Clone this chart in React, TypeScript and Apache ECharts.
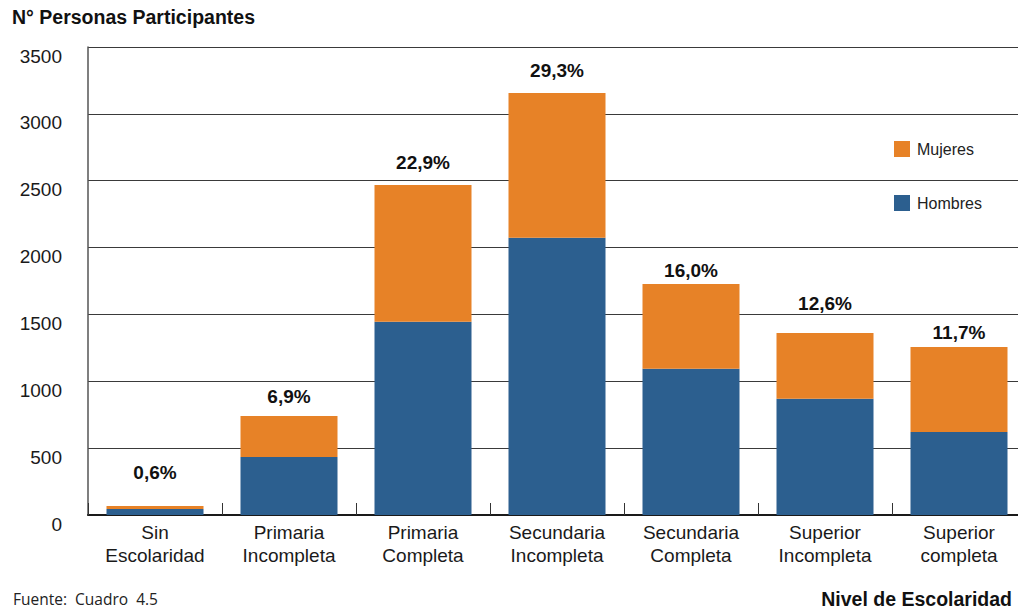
import React, { useEffect, useRef } from "react";
import * as echarts from "echarts";

const categories = [
  "Sin\nEscolaridad",
  "Primaria\nIncompleta",
  "Primaria\nCompleta",
  "Secundaria\nIncompleta",
  "Secundaria\nCompleta",
  "Superior\nIncompleta",
  "Superior\ncompleta",
];
const hombres = [45, 434, 1446, 2074, 1094, 870, 621];
const mujeres = [22, 306, 1022, 1082, 634, 491, 635];
const pctLabels = ["0,6%", "6,9%", "22,9%", "29,3%", "16,0%", "12,6%", "11,7%"];
const yTicks = { min: 0, max: 3500, interval: 500 };

// vertical gap (px) between each bar top and its percentage label
const labelGap = [24, 10, 13, 13, 4, 20, 5];

const BLUE = "#2C5F8F";
const ORANGE = "#E78227";
const SANS = "Liberation Sans, Arial, Helvetica, sans-serif";
const OPEN = "Open Sans, sans-serif";

export default function App() {
  const ref = useRef<HTMLDivElement>(null);
  useEffect(() => {
    if (!ref.current) return;
    const chart = echarts.init(ref.current, null, { renderer: "svg" });
    chart.setOption({
      animation: false,
      backgroundColor: "#ffffff",
      textStyle: { fontFamily: SANS },
      grid: { left: 88, top: 47, width: 938, height: 468, containLabel: false },
      legend: {
        data: ["Mujeres", "Hombres"],
        orient: "vertical",
        left: 889,
        top: 136,
        itemWidth: 16,
        itemHeight: 16,
        itemGap: 38,
        icon: "rect",
        textStyle: { fontFamily: SANS, fontSize: 16, color: "#222", padding: [0, 0, 0, 2] },
      },
      xAxis: {
        type: "category",
        data: categories,
        boundaryGap: true,
        axisLine: { show: true, lineStyle: { color: "#1a1a1a", width: 2 } },
        axisTick: { show: true, inside: true, length: 12, lineStyle: { color: "#333", width: 1 } },
        axisLabel: {
          interval: 0,
          margin: 6,
          fontFamily: SANS,
          fontSize: 19,
          lineHeight: 23,
          color: "#1a1a1a",
        },
        splitLine: { show: false },
      },
      yAxis: {
        type: "value",
        min: yTicks.min,
        max: yTicks.max,
        interval: yTicks.interval,
        axisLine: { show: true, lineStyle: { color: "#555", width: 1.5 } },
        axisTick: { show: false },
        axisLabel: {
          margin: 26,
          fontFamily: SANS,
          fontSize: 19,
          lineHeight: 18,
          color: "#1a1a1a",
          verticalAlign: "top",
          formatter: (v: number) => String(v),
        },
        splitLine: { show: true, lineStyle: { color: "#3a3a3a", width: 1 } },
      },
      series: [
        {
          name: "Hombres",
          type: "bar",
          stack: "total",
          barWidth: 97,
          itemStyle: { color: BLUE },
          data: hombres,
        },
        {
          name: "Mujeres",
          type: "bar",
          stack: "total",
          barWidth: 97,
          itemStyle: { color: ORANGE },
          data: mujeres.map((v, i) => ({
            value: v,
            label: { distance: labelGap[i] },
          })),
          label: {
            show: true,
            position: "top",
            formatter: (p: any) => pctLabels[p.dataIndex],
            fontFamily: SANS,
            fontSize: 19,
            fontWeight: "bold",
            color: "#111",
          },
        },
      ],
      graphic: [
        {
          type: "text",
          x: 12,
          y: 17,
          style: {
            text: "N° Personas Participantes",
            fontFamily: SANS,
            fontSize: 19.5,
            fontWeight: "bold",
            fill: "#111",
            verticalAlign: "middle",
            align: "left",
          },
        },
        {
          type: "text",
          x: 13,
          y: 599,
          style: {
            text: "Fuente:  Cuadro  4.5",
            fontFamily: OPEN,
            fontSize: 15.5,
            fill: "#222",
            verticalAlign: "middle",
            align: "left",
          },
        },
        {
          type: "text",
          x: 1012,
          y: 599,
          style: {
            text: "Nivel de Escolaridad",
            fontFamily: SANS,
            fontSize: 19.5,
            fontWeight: "bold",
            fill: "#111",
            verticalAlign: "middle",
            align: "right",
          },
        },
      ],
    });
    return () => chart.dispose();
  }, []);
  return (
    <div
      style={{
        position: "fixed",
        left: 0,
        top: 0,
        width: 1018,
        height: 611,
        overflow: "hidden",
        background: "#fff",
      }}
    >
      <div ref={ref} style={{ width: 1030, height: 611 }} />
    </div>
  );
}
